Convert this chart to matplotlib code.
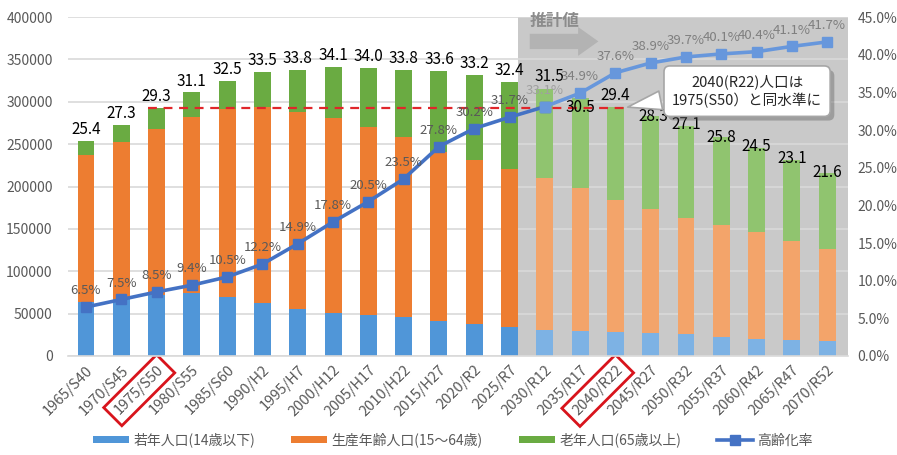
import numpy as np
import matplotlib
matplotlib.use("Agg")
import matplotlib.pyplot as plt
from matplotlib.lines import Line2D
from matplotlib.patches import FancyArrow
from matplotlib.ticker import FuncFormatter
import matplotlib.patheffects as pe

plt.rcParams['font.family'] = ['Noto Sans CJK JP', 'DejaVu Sans']

# ============================================================
# Data
# ============================================================

periods = ["1965/S40", "1970/S45", "1975/S50", "1980/S55", "1985/S60",
           "1990/H2", "1995/H7", "2000/H12", "2005/H17", "2010/H22",
           "2015/H27", "2020/R2", "2025/R7", "2030/R12", "2035/R17",
           "2040/R22", "2045/R27", "2050/R32", "2055/R37", "2060/R42",
           "2065/R47", "2070/R52"]

young = [64000, 67000, 72000, 74000, 70000, 63000, 55500, 50300, 48300,
         45600, 41600, 37700, 34600, 30700, 29800, 28700, 27500, 25600,
         22800, 20000, 18900, 17700]

working = [173500, 185500, 196000, 207800, 220900, 231100, 232100, 230000,
           222000, 213000, 199400, 193300, 186400, 179400, 168400, 154800,
           145400, 137800, 131700, 126000, 117200, 108200]

elderly = [16500, 20500, 25000, 29200, 34100, 40900, 50400, 60700, 69700,
           79400, 95000, 101000, 102900, 104900, 106800, 110500, 110100,
           107600, 103500, 99000, 94900, 90100]

# total population (万人) printed above bars
total_man = [25.4, 27.3, 29.3, 31.1, 32.5, 33.5, 33.8, 34.1, 34.0, 33.8,
             33.6, 33.2, 32.4, 31.5, 30.5, 29.4, 28.3, 27.1, 25.8, 24.5,
             23.1, 21.6]

# aging rate (%)
aging_rate = [6.5, 7.5, 8.5, 9.4, 10.5, 12.2, 14.9, 17.8, 20.5, 23.5, 27.8,
              30.2, 31.7, 33.1, 34.9, 37.6, 38.9, 39.7, 40.1, 40.4, 41.1,
              41.7]

n_actual = 13          # 1965 .. 2025 are actual, from 2030 projected
ref_idx = 2            # 1975/S50
match_idx = 15         # 2040/R22

# ============================================================
# Styles
# ============================================================

c_young = "#5096d8"
c_work = "#ed7d31"
c_old = "#6aab42"
c_young_p = "#7db2e4"
c_work_p = "#f3a46a"
c_old_p = "#90c46f"
c_line = "#4472c4"
c_line_p = "#6797dc"
c_text = "#595959"

x = np.arange(len(periods))
young = np.array(young)
working = np.array(working)
elderly = np.array(elderly)
total = young + working + elderly
rate = np.array(aging_rate) / 100

hist = x < n_actual
proj = ~hist

# ============================================================
# Figure
# ============================================================

fig = plt.figure(figsize=(8.97, 4.55), dpi=100)
ax = fig.add_axes([0.0758, 0.2176, 0.8696, 0.745])

ax.set_axisbelow(True)
ax.grid(axis="y", color="#d9d9d9", lw=1.2)
ax.axvspan(12.24, 21.6, color="#c9c9c9", zorder=0.3, lw=0)

w = 0.48

b1 = ax.bar(x[hist], young[hist], w, color=c_young, zorder=2)
b2 = ax.bar(x[hist], working[hist], w, bottom=young[hist], color=c_work, zorder=2)
b3 = ax.bar(x[hist], elderly[hist], w, bottom=(young + working)[hist], color=c_old, zorder=2)

ax.bar(x[proj], young[proj], w, color=c_young_p, zorder=2)
ax.bar(x[proj], working[proj], w, bottom=young[proj], color=c_work_p, zorder=2)
ax.bar(x[proj], elderly[proj], w, bottom=(young + working)[proj], color=c_old_p, zorder=2)

# total labels
label_dy = [2] * 13 + [3, -13, 2, -6, -5, -6, -5, -5, -6]
label_dx = [0] * 13 + [3, 0, 0, 2, 0, 0, 0, 0, 0]
for xi, tot, lab, dx, dy in zip(x, total, total_man, label_dx, label_dy):
    ax.annotate(f"{lab:.1f}", (xi, tot), xytext=(dx, dy), textcoords="offset points",
                ha="center", va="bottom", fontsize=11, color="black", zorder=6)

# reference level dashed line (1975 -> 2040)
ax.hlines(total[ref_idx], ref_idx - w / 2, match_idx + w / 2, colors="#e0262a",
          linestyles=(0, (4, 3)), lw=1.6, zorder=4)

ax.set_xlim(-0.51, 21.59)
ax.set_ylim(0, 400000)
ax.set_yticks(np.arange(0, 400001, 50000))
ax.set_xticks(x)
ax.set_xticklabels(periods, rotation=45, ha="right", va="top",
                   rotation_mode="anchor", fontsize=10.5, color=c_text)
ax.tick_params(axis="y", length=0, pad=11, labelsize=10, labelcolor=c_text)
ax.tick_params(axis="x", length=0, pad=5)
for s in ["left", "right", "top"]:
    ax.spines[s].set_visible(False)
ax.spines["bottom"].set_color("#d9d9d9")
ax.spines["bottom"].set_linewidth(1.2)

for i in (ref_idx, match_idx):
    ax.get_xticklabels()[i].set_bbox(dict(facecolor="none", edgecolor="#d8141c",
                                          lw=2, boxstyle="square,pad=0.4"))

# ============================================================
# Aging rate line
# ============================================================

ax2 = ax.twinx()
ax2.set_ylim(0, 0.45)
ax2.set_yticks(np.arange(0, 0.451, 0.05))
ax2.yaxis.set_major_formatter(FuncFormatter(lambda v, p: f"{v * 100:.1f}%"))
ax2.tick_params(axis="y", length=0, pad=7, labelsize=10, labelcolor=c_text)
for s in ["left", "right", "top", "bottom"]:
    ax2.spines[s].set_visible(False)

ax2.plot(x[:n_actual + 1], rate[:n_actual + 1], color=c_line, lw=2.6,
         marker="s", ms=7, zorder=5)
ax2.plot(x[n_actual:], rate[n_actual:], color=c_line_p, lw=2.6,
         marker="s", ms=7, zorder=5)
ax2.plot(x[n_actual], rate[n_actual], "s", color=c_line_p, ms=7, zorder=5)

for xi, r, ra in zip(x, rate, aging_rate):
    col = c_text if xi < n_actual else "#7f7f7f"
    if xi == n_actual:
        col = "#a0a0a0"
    ax2.annotate(f"{ra:.1f}%", (xi, r), xytext=(0, 7), textcoords="offset points",
                 ha="center", va="bottom", fontsize=9.5, color=col, zorder=6)

# ============================================================
# Projection header
# ============================================================

ax2.text(0.592, 1.014, "推計値", transform=ax2.transAxes, ha="left", va="top",
         fontsize=12, fontweight="bold", color="#8c8c8c", clip_on=False)
ax2.add_patch(FancyArrow(0.592, 0.928, 0.062, 0, width=0.045, head_width=0.085,
                         head_length=0.026, length_includes_head=False,
                         transform=ax2.transAxes, color="#b3b3b3", lw=0, zorder=3))

# callout
call = ax.annotate("2040(R22)人口は\n1975(S50）と同水準に",
                   xy=(match_idx + w / 2 + 0.03, total[ref_idx]),
                   xytext=(18.73, 312500), ha="center", va="center",
                   fontsize=10.5, color="#262626", linespacing=1.35, zorder=8,
                   bbox=dict(boxstyle="round,pad=0.55,rounding_size=0.4",
                             fc="white", ec="#a6a6a6", lw=1.2),
                   arrowprops=dict(arrowstyle="wedge,tail_width=1.3,shrink_factor=0.5",
                                   fc="white", ec="#a6a6a6", lw=1.2,
                                   relpos=(0.0, 0.3)))
call.get_bbox_patch().set_path_effects([pe.SimplePatchShadow(offset=(3, -3), alpha=0.35),
                                        pe.Normal()])
ax.set_zorder(ax2.get_zorder() - 1)
ax.patch.set_visible(True)
ax2.patch.set_visible(False)

# ============================================================
# Legend
# ============================================================

line_handle = Line2D([], [], color=c_line, lw=2.6, marker="s", ms=7)
fig.legend([b1, b2, b3, line_handle],
           ["若年人口(14歳以下)", "生産年齢人口(15〜64歳)", "老年人口(65歳以上)", "高齢化率"],
           loc="center", bbox_to_anchor=(0.505, 0.033), ncol=4, frameon=False,
           fontsize=10, labelcolor=c_text, handlelength=2.6, handleheight=0.5,
           columnspacing=2.6, handletextpad=0.3)

fig.savefig("out.png", dpi=100)
